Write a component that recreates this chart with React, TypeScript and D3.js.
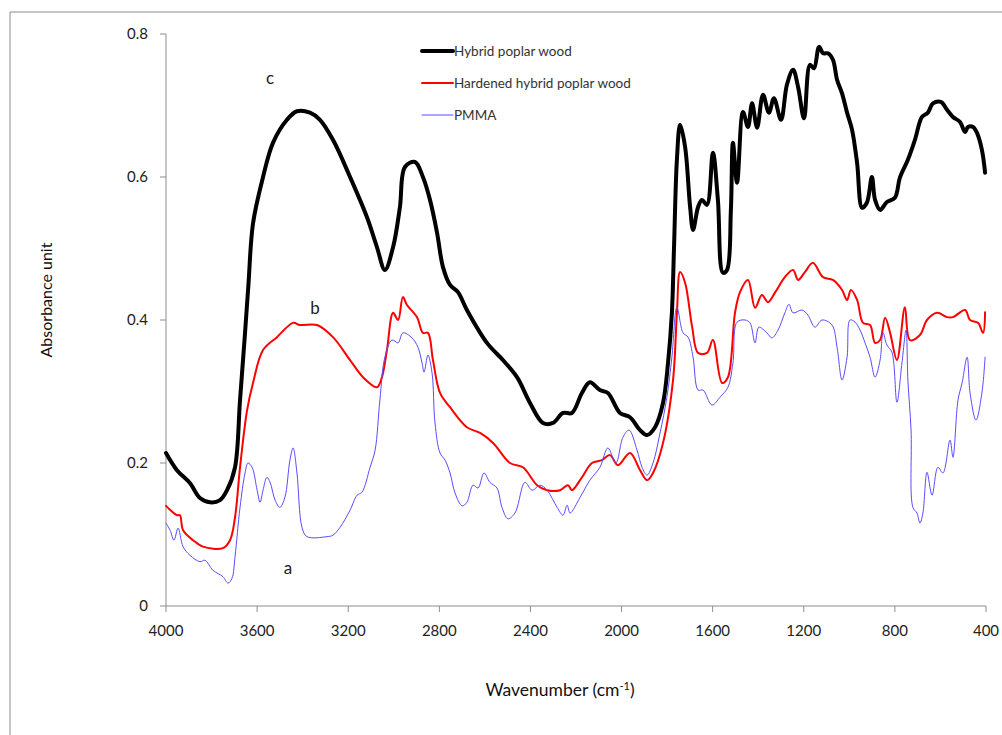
import React from 'react';
import * as d3 from 'd3';

// wavenumber (cm-1), absorbance
const hybridWood: [number, number][] = [
  [4000, 0.214], [3952, 0.19], [3895, 0.172], [3851, 0.151], [3807, 0.145], [3763, 0.148],
  [3732, 0.162], [3697, 0.194], [3675, 0.288], [3653, 0.382], [3638, 0.45], [3618, 0.535],
  [3574, 0.6], [3530, 0.648], [3469, 0.68], [3425, 0.692], [3368, 0.69], [3324, 0.68],
  [3267, 0.652], [3192, 0.6], [3118, 0.544], [3074, 0.502], [3039, 0.47], [3003, 0.502],
  [2973, 0.558], [2951, 0.614], [2907, 0.621], [2872, 0.6], [2841, 0.568], [2810, 0.522],
  [2784, 0.474], [2753, 0.449], [2718, 0.439], [2679, 0.414], [2591, 0.368], [2521, 0.344],
  [2459, 0.32], [2402, 0.284], [2345, 0.256], [2301, 0.256], [2257, 0.27], [2218, 0.27],
  [2174, 0.298], [2139, 0.313], [2095, 0.302], [2060, 0.298], [2007, 0.27], [1963, 0.264],
  [1919, 0.246], [1888, 0.239], [1853, 0.25], [1818, 0.284], [1796, 0.34], [1779, 0.41],
  [1770, 0.498], [1757, 0.624], [1743, 0.673], [1721, 0.642], [1699, 0.558], [1686, 0.526],
  [1664, 0.558], [1647, 0.568], [1625, 0.561], [1599, 0.634], [1577, 0.568], [1555, 0.466],
  [1537, 0.47], [1520, 0.554], [1511, 0.648], [1493, 0.592], [1467, 0.691], [1445, 0.67],
  [1427, 0.703], [1405, 0.669], [1379, 0.715], [1353, 0.69], [1331, 0.71], [1300, 0.68],
  [1274, 0.729], [1247, 0.75], [1225, 0.726], [1199, 0.682], [1173, 0.757], [1155, 0.752],
  [1133, 0.782], [1115, 0.773], [1094, 0.773], [1072, 0.764], [1054, 0.736], [1032, 0.717],
  [1010, 0.69], [988, 0.666], [966, 0.62], [944, 0.557], [923, 0.564], [901, 0.6],
  [887, 0.568], [865, 0.554], [835, 0.565], [800, 0.571], [778, 0.599], [743, 0.624],
  [712, 0.652], [681, 0.684], [655, 0.69], [633, 0.703], [598, 0.705], [571, 0.694],
  [545, 0.684], [514, 0.677], [492, 0.663], [479, 0.67], [457, 0.67], [440, 0.662],
  [418, 0.638], [404, 0.606],
];

const hardenedWood: [number, number][] = [
  [4000, 0.14], [3952, 0.127], [3939, 0.127], [3925, 0.106], [3881, 0.092], [3838, 0.083],
  [3750, 0.081], [3719, 0.092], [3697, 0.124], [3675, 0.194], [3644, 0.274], [3618, 0.312],
  [3574, 0.358], [3513, 0.376], [3442, 0.396], [3412, 0.393], [3337, 0.393], [3267, 0.376],
  [3192, 0.344], [3135, 0.32], [3074, 0.306], [3052, 0.32], [3030, 0.358], [3003, 0.41],
  [2981, 0.4], [2960, 0.432], [2942, 0.421], [2898, 0.404], [2872, 0.382], [2850, 0.382],
  [2828, 0.344], [2797, 0.298], [2753, 0.278], [2679, 0.25], [2621, 0.242], [2564, 0.228],
  [2490, 0.2], [2433, 0.194], [2371, 0.169], [2327, 0.162], [2270, 0.162], [2235, 0.169],
  [2218, 0.162], [2174, 0.18], [2130, 0.2], [2086, 0.204], [2051, 0.211], [2016, 0.197],
  [1963, 0.214], [1919, 0.19], [1888, 0.176], [1862, 0.186], [1818, 0.228], [1774, 0.316],
  [1757, 0.41], [1743, 0.467], [1721, 0.452], [1690, 0.39], [1664, 0.354], [1625, 0.354],
  [1599, 0.372], [1559, 0.312], [1533, 0.32], [1502, 0.41], [1480, 0.439], [1445, 0.456],
  [1414, 0.417], [1384, 0.435], [1357, 0.425], [1327, 0.438], [1283, 0.46], [1247, 0.47],
  [1225, 0.456], [1195, 0.467], [1160, 0.48], [1116, 0.46], [1072, 0.456], [1032, 0.442],
  [1010, 0.428], [993, 0.442], [966, 0.428], [940, 0.396], [909, 0.393], [887, 0.368],
  [865, 0.372], [843, 0.403], [821, 0.382], [791, 0.344], [756, 0.418], [734, 0.372],
  [690, 0.379], [659, 0.4], [615, 0.41], [571, 0.404], [545, 0.404], [492, 0.414],
  [470, 0.4], [435, 0.396], [413, 0.382], [404, 0.411],
];

const pmma: [number, number][] = [
  [4000, 0.116], [3982, 0.106], [3965, 0.092], [3947, 0.109], [3925, 0.083], [3895, 0.071],
  [3851, 0.062], [3829, 0.064], [3794, 0.05], [3750, 0.041], [3728, 0.032], [3710, 0.039],
  [3697, 0.069], [3675, 0.138], [3653, 0.186], [3640, 0.2], [3622, 0.194], [3600, 0.162],
  [3587, 0.145], [3574, 0.162], [3557, 0.18], [3543, 0.173], [3521, 0.148], [3500, 0.138],
  [3478, 0.152], [3456, 0.204], [3442, 0.221], [3425, 0.186], [3403, 0.11], [3381, 0.097],
  [3293, 0.097], [3267, 0.099], [3236, 0.11], [3192, 0.134], [3161, 0.155], [3140, 0.159],
  [3104, 0.194], [3082, 0.218], [3061, 0.288], [3039, 0.348], [3008, 0.372], [2981, 0.368],
  [2960, 0.382], [2920, 0.375], [2894, 0.362], [2876, 0.34], [2867, 0.327], [2850, 0.351],
  [2832, 0.326], [2819, 0.256], [2797, 0.214], [2775, 0.204], [2753, 0.186], [2731, 0.158],
  [2700, 0.14], [2679, 0.145], [2652, 0.169], [2630, 0.165], [2604, 0.186], [2578, 0.173],
  [2547, 0.165], [2525, 0.138], [2499, 0.122], [2468, 0.13], [2424, 0.173], [2393, 0.162],
  [2358, 0.169], [2327, 0.162], [2283, 0.138], [2257, 0.127], [2239, 0.141], [2226, 0.13],
  [2182, 0.152], [2139, 0.176], [2095, 0.194], [2060, 0.221], [2025, 0.2], [1994, 0.236],
  [1967, 0.246], [1932, 0.218], [1910, 0.194], [1888, 0.183], [1862, 0.2], [1831, 0.242],
  [1801, 0.292], [1779, 0.348], [1757, 0.418], [1730, 0.382], [1708, 0.376], [1686, 0.348],
  [1664, 0.302], [1642, 0.302], [1603, 0.281], [1568, 0.292], [1533, 0.306], [1511, 0.34],
  [1493, 0.397], [1458, 0.4], [1436, 0.396], [1414, 0.368], [1397, 0.39], [1362, 0.382],
  [1340, 0.375], [1313, 0.386], [1283, 0.41], [1265, 0.422], [1247, 0.41], [1208, 0.414],
  [1182, 0.407], [1151, 0.39], [1120, 0.4], [1076, 0.393], [1054, 0.362], [1032, 0.316],
  [1010, 0.348], [997, 0.4], [975, 0.397], [953, 0.386], [931, 0.368], [909, 0.348],
  [887, 0.32], [865, 0.344], [852, 0.382], [835, 0.365], [813, 0.355], [791, 0.285],
  [769, 0.34], [751, 0.386], [743, 0.316], [729, 0.246], [721, 0.138], [703, 0.13],
  [690, 0.116], [677, 0.13], [659, 0.187], [637, 0.155], [611, 0.194], [589, 0.186],
  [558, 0.232], [545, 0.208], [523, 0.288], [505, 0.312], [483, 0.348], [470, 0.298],
  [444, 0.26], [418, 0.298], [404, 0.348],
];

const xTicks = [4000, 3600, 3200, 2800, 2400, 2000, 1600, 1200, 800, 400];
const yTicks = [0, 0.2, 0.4, 0.6, 0.8];
const yTickLabels = ['0', '0.2', '0.4', '0.6', '0.8'];
const seriesNames = ['Hybrid poplar wood', 'Hardened hybrid poplar wood', 'PMMA'];
const curveLetters = ['c', 'b', 'a'];
// where each letter sits: wavenumber, absorbance
const letterWave = [3543, 3346, 3464];
const letterAbs = [0.73, 0.408, 0.045];

const W = 1002;
const H = 735;
const margin = { top: 34, right: 16, bottom: 129, left: 166 };
const font = 'Lato, "Open Sans", sans-serif';
const axisColor = '#8c8c8c';

export default function App() {
  const x = d3.scaleLinear().domain([4000, 400]).range([margin.left, W - margin.right]);
  const y = d3.scaleLinear().domain([0, 0.8]).range([H - margin.bottom, margin.top]);

  const line = d3.line<[number, number]>()
    .x(d => x(d[0]))
    .y(d => y(d[1]))
    .curve(d3.curveCatmullRom.alpha(0.5));

  const series = [
    { name: seriesNames[0], data: hybridWood, color: '#000000', width: 4 },
    { name: seriesNames[1], data: hardenedWood, color: '#ff0000', width: 2 },
    { name: seriesNames[2], data: pmma, color: '#5b4bff', width: 1 },
  ];

  const y0 = y(0);

  return (
    <svg width={W} height={H} style={{ position: 'absolute', left: 0, top: 0, background: '#fff' }}>
      {/* outer frame */}
      <line x1={10} x2={W} y1={12} y2={12} stroke={axisColor} strokeWidth={1} />
      <line x1={10} x2={10} y1={12} y2={H} stroke={axisColor} strokeWidth={1} />

      {/* y axis */}
      <line x1={margin.left} x2={margin.left} y1={y(0.8)} y2={y0} stroke={axisColor} />
      {yTicks.map((t, i) => (
        <g key={'yt' + t}>
          <line x1={margin.left - 6} x2={margin.left} y1={y(t)} y2={y(t)} stroke={axisColor} />
          <text x={margin.left - 18} y={y(t)} dy="0.35em" textAnchor="end" fontFamily={font} fontSize={15} fill="#222">
            {yTickLabels[i]}
          </text>
        </g>
      ))}

      {/* x axis */}
      <line x1={x(4000)} x2={x(400)} y1={y0} y2={y0} stroke={axisColor} />
      {xTicks.map(t => (
        <g key={'xt' + t}>
          <line x1={x(t)} x2={x(t)} y1={y0} y2={y0 + 6} stroke={axisColor} />
          <text x={x(t)} y={y0 + 30} textAnchor="middle" fontFamily={font} fontSize={15} fill="#222">
            {t}
          </text>
        </g>
      ))}

      {/* series */}
      {series.map(s => (
        <path key={s.name} d={line(s.data) || ''} fill="none" stroke={s.color} strokeWidth={s.width}
          strokeLinejoin="round" strokeLinecap="round" />
      ))}

      {/* curve letters */}
      {curveLetters.map((c, i) => (
        <text key={c} x={x(letterWave[i])} y={y(letterAbs[i])} textAnchor="middle"
          fontFamily={font} fontSize={17} fill="#222">{c}</text>
      ))}

      {/* legend */}
      {series.map((s, i) => (
        <g key={'lg' + s.name} transform={`translate(422,${51 + i * 32})`}>
          <line x1={0} x2={31} y1={0} y2={0} stroke={s.color} strokeWidth={s.width} strokeLinecap="round" />
          <text x={32} y={0} dy="0.35em" fontFamily={font} fontSize={13.5} fill="#333">{s.name}</text>
        </g>
      ))}

      {/* axis titles */}
      <text transform={`translate(52,300) rotate(-90)`} textAnchor="middle"
        fontFamily={font} fontSize={16} fill="#111">Absorbance unit</text>
      <text x={560} y={696} textAnchor="middle" fontFamily={font} fontSize={17.5} fill="#111">
        Wavenumber (cm<tspan dy={-6} fontSize={11}>-1</tspan><tspan dy={6}>)</tspan>
      </text>
    </svg>
  );
}
